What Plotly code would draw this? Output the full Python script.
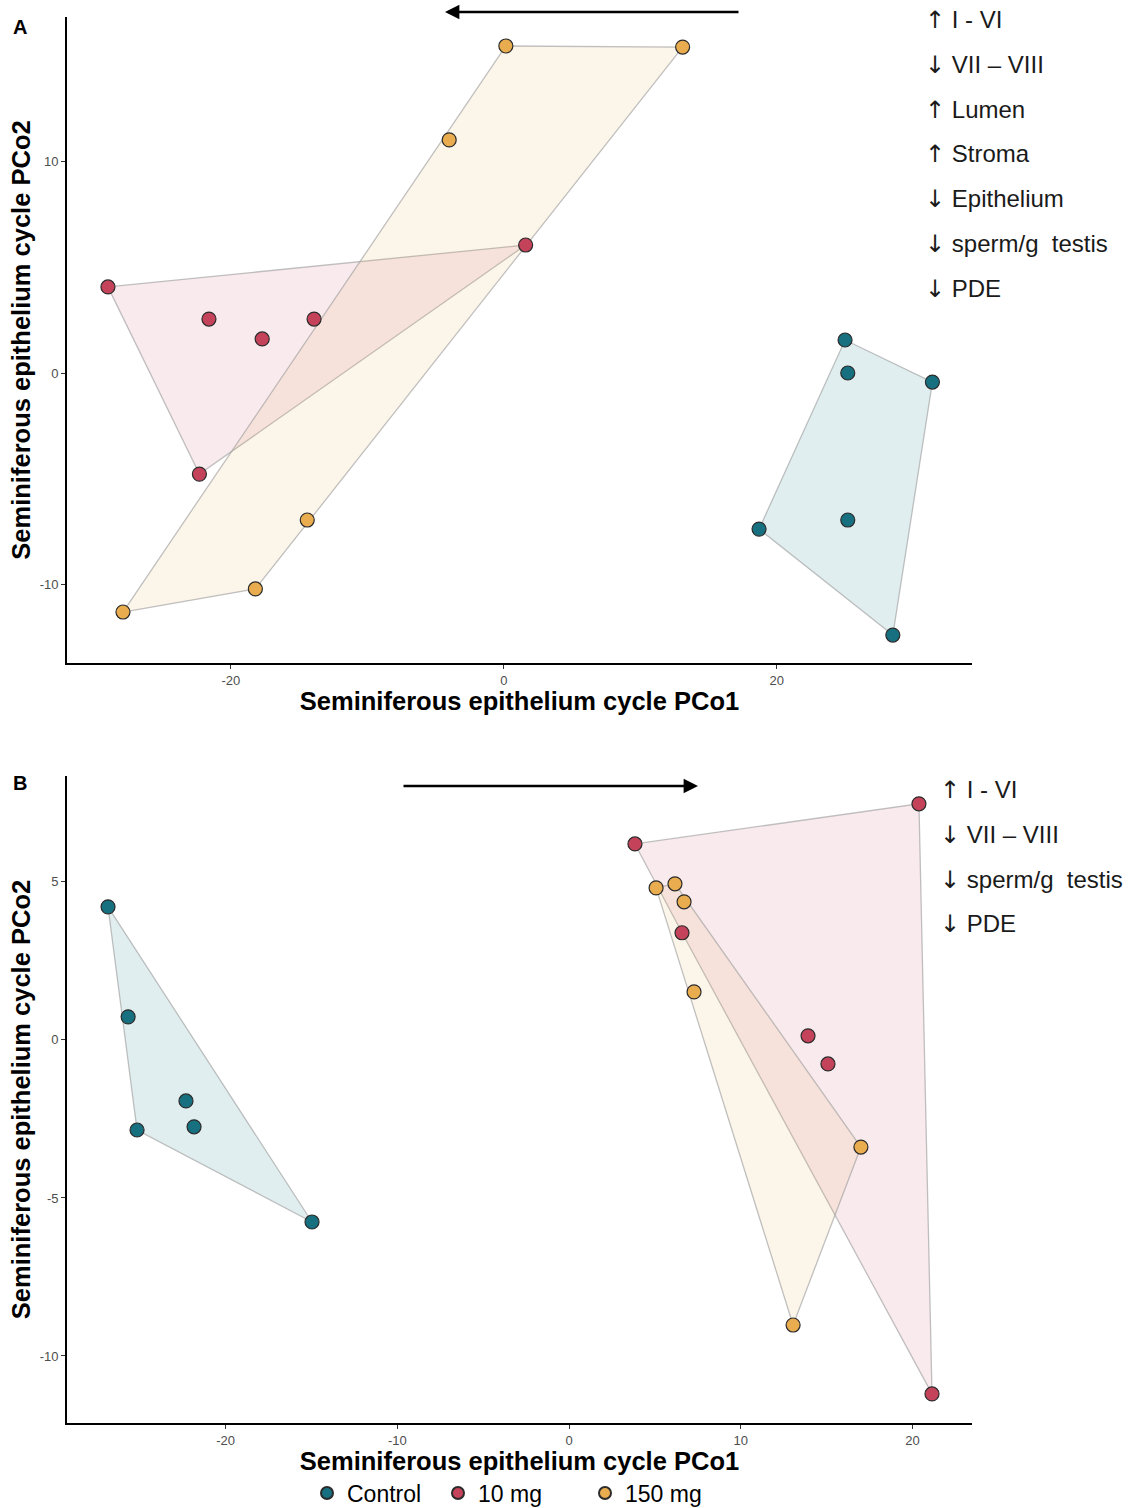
import plotly.graph_objects as go

# ---------------- data ----------------
groups = ["Control", "10 mg", "150 mg"]
colors = {"Control": "#17707F", "10 mg": "#C5435A", "150 mg": "#E9AD4F"}
fills = {"Control": "rgba(23,120,140,0.13)", "10 mg": "rgba(197,67,90,0.11)", "150 mg": "rgba(233,173,79,0.12)"}

# Panel A
a_ctrl_x = [25.0, 25.2, 31.4, 18.7, 25.2, 28.5]
a_ctrl_y = [1.56, 0.0, -0.43, -7.38, -6.95, -12.39]
a_10_x = [-29.0, -21.6, -17.7, -13.9, -22.3, 1.6]
a_10_y = [4.07, 2.55, 1.61, 2.55, -4.78, 6.05]
a_150_x = [0.15, 13.1, -4.0, -14.4, -18.2, -27.9]
a_150_y = [15.46, 15.41, 11.02, -6.95, -10.21, -11.30]

# Panel B
b_ctrl_x = [-26.85, -25.68, -25.16, -22.31, -21.84, -14.97]
b_ctrl_y = [4.21, 0.73, -2.85, -1.93, -2.75, -5.76]
b_10_x = [3.84, 20.38, 6.58, 13.92, 15.08, 21.14]
b_10_y = [6.20, 7.47, 3.39, 0.13, -0.76, -11.2]
b_150_x = [5.07, 6.17, 6.70, 7.28, 17.0, 13.05]
b_150_y = [4.81, 4.94, 4.37, 1.52, -3.39, -9.02]

a_xticks = [-20, 0, 20]
a_yticks = [-10, 0, 10]
b_xticks = [-20, -10, 0, 10, 20]
b_yticks = [-10, -5, 0, 5]

a_text = [("↑", "I - VI"), ("↓", "VII – VIII"), ("↑", "Lumen"), ("↑", "Stroma"),
          ("↓", "Epithelium"), ("↓", "sperm/g  testis"), ("↓", "PDE")]
b_text = [("↑", "I - VI"), ("↓", "VII – VIII"), ("↓", "sperm/g  testis"), ("↓", "PDE")]

x_title = "Seminiferous epithelium cycle PCo1"
y_title = "Seminiferous epithelium cycle PCo2"

panel_a = {"Control": (a_ctrl_x, a_ctrl_y), "10 mg": (a_10_x, a_10_y), "150 mg": (a_150_x, a_150_y)}
panel_b = {"Control": (b_ctrl_x, b_ctrl_y), "10 mg": (b_10_x, b_10_y), "150 mg": (b_150_x, b_150_y)}


def hull(xs, ys):
    pts = sorted(set(zip(xs, ys)))
    def cross(o, a, b):
        return (a[0]-o[0])*(b[1]-o[1]) - (a[1]-o[1])*(b[0]-o[0])
    lower, upper = [], []
    for p in pts:
        while len(lower) >= 2 and cross(lower[-2], lower[-1], p) <= 0:
            lower.pop()
        lower.append(p)
    for p in reversed(pts):
        while len(upper) >= 2 and cross(upper[-2], upper[-1], p) <= 0:
            upper.pop()
        upper.append(p)
    h = lower[:-1] + upper[:-1]
    h.append(h[0])
    return [p[0] for p in h], [p[1] for p in h]


W, H = 1133, 1508
ml, mr, mt, mb = 67, 161, 17, 85
pw = W - ml - mr
ph = H - mt - mb

def px2paper(x, y):
    return (x - ml) / pw, (H - mb - y) / ph

def ydom(top_px, bot_px):
    return [(H - mb - bot_px) / ph, (H - mb - top_px) / ph]

legend_ids = {"Control": "legend", "10 mg": "legend2", "150 mg": "legend3"}
legend_px = {"Control": 307, "10 mg": 438, "150 mg": 585}

fig = go.Figure()

for panel, xa, ya, show in [(panel_a, "x", "y", False), (panel_b, "x2", "y2", True)]:
    for g in groups:
        hx, hy = hull(*panel[g])
        fig.add_trace(go.Scatter(x=hx, y=hy, xaxis=xa, yaxis=ya, mode="lines", fill="toself",
                                 fillcolor=fills[g], line=dict(color="rgba(160,160,160,0.65)", width=1.3),
                                 showlegend=False, hoverinfo="skip"))
    for g in groups:
        px, py = panel[g]
        fig.add_trace(go.Scatter(x=px, y=py, xaxis=xa, yaxis=ya, mode="markers", name=g,
                                 legend=legend_ids[g],
                                 marker=dict(size=14, color=colors[g], line=dict(color="#2b2b2b", width=1.2)),
                                 showlegend=show))

tickfont = dict(family="Liberation Sans, Arial", size=13, color="#4d4d4d")
titlefont = dict(family="Liberation Sans, Arial", size=25.5, color="black", weight="bold")
ax_common = dict(showline=True, linecolor="black", linewidth=1.8, showgrid=False, zeroline=False,
                 ticks="outside", ticklen=4, tickcolor="#333", tickwidth=1, tickfont=tickfont,
                 mirror=False)

def tt(vals):
    return [str(v) for v in vals]

legend_layout = {}
for g in groups:
    lx, ly = px2paper(legend_px[g], 1493)
    legend_layout[legend_ids[g]] = dict(orientation="h", x=lx, xanchor="left", y=ly, yanchor="middle",
                                        font=dict(family="Liberation Sans, Arial", size=23, color="black"),
                                        itemsizing="constant", bgcolor="rgba(0,0,0,0)")

fig.update_layout(
    width=W, height=H,
    margin=dict(l=ml, r=mr, t=mt, b=mb, autoexpand=False),
    plot_bgcolor="white", paper_bgcolor="white",
    xaxis=dict(ax_common, range=[-32.0, 34.3], tickvals=a_xticks, ticktext=tt(a_xticks), domain=[0, 1], anchor="y",
               title=dict(text=x_title, font=titlefont, standoff=0)),
    yaxis=dict(ax_common, range=[-13.71, 16.83], tickvals=a_yticks, ticktext=tt(a_yticks), domain=ydom(17, 663), anchor="x",
               title=dict(text=y_title, font=titlefont, standoff=2)),
    xaxis2=dict(ax_common, range=[-29.24, 23.47], tickvals=b_xticks, ticktext=tt(b_xticks), domain=[0, 1], anchor="y2",
                title=dict(text=x_title, font=titlefont, standoff=0)),
    yaxis2=dict(ax_common, range=[-12.12, 8.35], tickvals=b_yticks, ticktext=tt(b_yticks), domain=ydom(776, 1423), anchor="x2",
                title=dict(text=y_title, font=titlefont, standoff=2)),
    font=dict(family="Liberation Sans, Arial"),
    **legend_layout,
)

anns = []
for lab, (lx, ly) in [("A", (20, 27)), ("B", (20, 783))]:
    X, Y = px2paper(lx, ly)
    anns.append(dict(text="<b>%s</b>" % lab, x=X, y=Y, xref="paper", yref="paper", showarrow=False,
                     xanchor="center", yanchor="middle", font=dict(size=20, color="black", family="Liberation Sans, Arial")))
X, Y = px2paper(445, 12)
anns.append(dict(x=X, y=Y, xref="paper", yref="paper", ax=295, ay=0, showarrow=True, arrowhead=2,
                 arrowsize=1.2, arrowwidth=2.4, arrowcolor="black", text=""))
X, Y = px2paper(698, 786)
anns.append(dict(x=X, y=Y, xref="paper", yref="paper", ax=-296, ay=0, showarrow=True, arrowhead=2,
                 arrowsize=1.2, arrowwidth=2.4, arrowcolor="black", text=""))

def fmt(arrow, label):
    return '<span style="font-family:DejaVu Sans">%s</span> %s' % (arrow, label)

for i, (ar, t) in enumerate(a_text):
    X, Y = px2paper(923, 20 + i * 44.8)
    anns.append(dict(text=fmt(ar, t), x=X, y=Y, xref="paper", yref="paper", showarrow=False, xanchor="left",
                     yanchor="middle", font=dict(size=24, color="#1a1a1a", family="Liberation Sans, Arial")))
for i, (ar, t) in enumerate(b_text):
    X, Y = px2paper(938, 790 + i * 44.8)
    anns.append(dict(text=fmt(ar, t), x=X, y=Y, xref="paper", yref="paper", showarrow=False, xanchor="left",
                     yanchor="middle", font=dict(size=24, color="#1a1a1a", family="Liberation Sans, Arial")))
fig.update_layout(annotations=anns)

fig.write_html("out.html")
